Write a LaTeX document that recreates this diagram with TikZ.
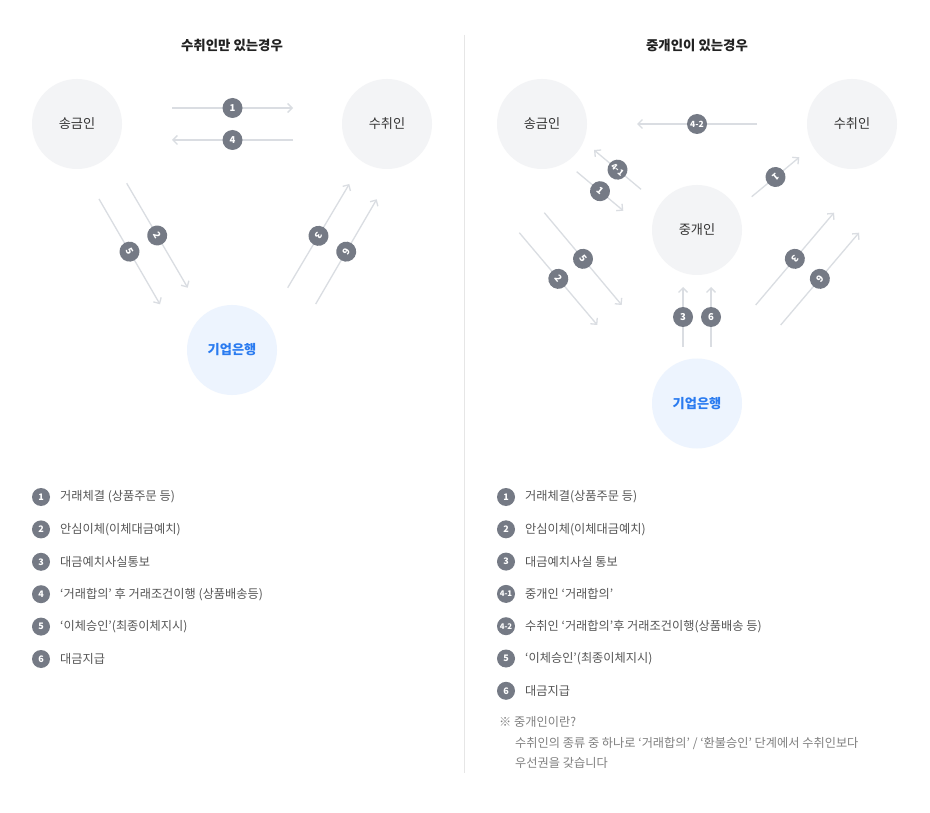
\documentclass[tikz,border=0pt]{standalone}
\usepackage{fontspec}
\setmainfont{Noto Sans CJK KR}
\usetikzlibrary{arrows.meta}
\definecolor{partyfill}{HTML}{F3F4F6}
\definecolor{bankfill}{HTML}{EDF4FE}
\definecolor{banktext}{HTML}{2A7BF0}
\definecolor{badgefill}{HTML}{757A85}
\definecolor{flowline}{HTML}{DADDE2}
\definecolor{titletext}{HTML}{222222}
\definecolor{labeltext}{HTML}{333333}
\definecolor{legendtext}{HTML}{555555}
\definecolor{notetext}{HTML}{808080}
\definecolor{divider}{HTML}{E6E6E6}
\tikzset{
  party/.style={circle, fill=partyfill, minimum size=90pt, inner sep=0pt, text=labeltext, font=\fontsize{13.2}{15}\selectfont},
  bank/.style={party, fill=bankfill, text=banktext, font=\fontsize{13.2}{15}\selectfont\bfseries},
  badge/.style={circle, fill=badgefill, minimum size=20pt, inner sep=0pt, text=white, font=\fontsize{9.5}{10}\selectfont\bfseries},
  lbadge/.style={circle, fill=badgefill, minimum size=18pt, inner sep=0pt, text=white, font=\fontsize{9}{10}\selectfont\bfseries},
  flow/.style={draw=flowline, line width=1.3pt, -{Straight Barb[length=4.5pt,width=9pt]}},
  paneltitle/.style={text=titletext, font=\fontsize{13.4}{15}\selectfont\bfseries},
  legendline/.style={anchor=west, inner sep=0pt, text=legendtext, font=\fontsize{12.2}{14}\selectfont},
  noteline/.style={anchor=west, inner sep=0pt, text=notetext, font=\fontsize{12.2}{14}\selectfont},
}
\begin{document}
\begin{tikzpicture}[x=1pt,y=-1pt]
\useasboundingbox[fill=white] (0,0) rectangle (930,813);

% divider
\coordinate (dtop) at (464,35);
\coordinate (dbot) at (464,773);
\draw[divider, line width=1pt] (dtop) -- (dbot);

% ===== Left panel =====
\node[paneltitle] (ltitle) at (232,45) {수취인만 있는경우};
\node[party] (lsend) at (77,124) {송금인};
\node[party] (lrecv) at (387,124) {수취인};
\node[bank] (lbank) at (232,350) {기업은행};

\coordinate (l1s) at (172,108); \coordinate (l1e) at (293,108);
\coordinate (l4s) at (293,140); \coordinate (l4e) at (172,140);
\coordinate (l2s) at (126.7,183.3); \coordinate (l2e) at (187.7,287.7);
\coordinate (l5s) at (99,199); \coordinate (l5e) at (160,304.3);
\coordinate (l3s) at (287.7,287.7); \coordinate (l3e) at (349.3,184);
\coordinate (l6s) at (315.7,304); \coordinate (l6e) at (376.7,199.3);

\draw[flow] (l1s) -- (l1e) node[badge, pos=.5] (lb1) {1};
\draw[flow] (l4s) -- (l4e) node[badge, pos=.5] (lb4) {4};
\draw[flow] (l2s) -- (l2e) node[badge, pos=.5, rotate=-60] (lb2) {2};
\draw[flow] (l5s) -- (l5e) node[badge, pos=.5, rotate=-60] (lb5) {5};
\draw[flow] (l3s) -- (l3e) node[badge, pos=.5, rotate=-120] (lb3) {3};
\draw[flow] (l6s) -- (l6e) node[badge, pos=.5, rotate=-120] (lb6) {6};

% ===== Right panel =====
\node[paneltitle] (rtitle) at (697,45) {중개인이 있는경우};
\node[party] (rsend) at (542,124) {송금인};
\node[party] (rrecv) at (852,124) {수취인};
\node[party] (rmid) at (697,230) {중개인};
\node[bank] (rbank) at (697,403.5) {기업은행};

\coordinate (r42s) at (757,124); \coordinate (r42e) at (637,124);
\coordinate (r41s) at (641,189.3); \coordinate (r41e) at (594,150);
\coordinate (r1as) at (576.7,171.7); \coordinate (r1ae) at (623.3,210.7);
\coordinate (r1bs) at (751.7,196.7); \coordinate (r1be) at (799.3,157.3);
\coordinate (r2s) at (519.3,232.7); \coordinate (r2e) at (597.3,325);
\coordinate (r5s) at (544.3,212.7); \coordinate (r5e) at (621.7,305);
\coordinate (r3s) at (755.7,305); \coordinate (r3e) at (834,212.7);
\coordinate (r6s) at (780.7,325); \coordinate (r6e) at (859,232.7);
\coordinate (r3vs) at (683,347); \coordinate (r3ve) at (683,287);
\coordinate (r6vs) at (711,347); \coordinate (r6ve) at (711,287);

\draw[flow] (r42s) -- (r42e) node[badge, pos=.5, font=\fontsize{8.5}{9}\selectfont\bfseries] (rb42) {4-2};
\draw[flow] (r41s) -- (r41e) node[badge, pos=.5, rotate=-40, font=\fontsize{8.5}{9}\selectfont\bfseries] (rb41) {4-1};
\draw[flow] (r1as) -- (r1ae) node[badge, pos=.5, rotate=-40] (rb1a) {1};
\draw[flow] (r1bs) -- (r1be) node[badge, pos=.5, rotate=-140] (rb1b) {1};
\draw[flow] (r2s) -- (r2e) node[badge, pos=.5, rotate=-50] (rb2) {2};
\draw[flow] (r5s) -- (r5e) node[badge, pos=.5, rotate=-50] (rb5) {5};
\draw[flow] (r3s) -- (r3e) node[badge, pos=.5, rotate=-130] (rb3) {3};
\draw[flow] (r6s) -- (r6e) node[badge, pos=.5, rotate=-130] (rb6) {6};
\draw[flow] (r3vs) -- (r3ve) node[badge, pos=.5] (rb3v) {3};
\draw[flow] (r6vs) -- (r6ve) node[badge, pos=.5] (rb6v) {6};

% ===== Left legend =====
\node[lbadge] (ll1) at (41,497) {1};
\node[legendline] (lt1) at (60,497) {거래체결 (상품주문 등)};
\node[lbadge] (ll2) at (41,529.4) {2};
\node[legendline] (lt2) at (60,529.4) {안심이체(이체대금예치)};
\node[lbadge] (ll3) at (41,561.8) {3};
\node[legendline] (lt3) at (60,561.8) {대금예치사실통보};
\node[lbadge] (ll4) at (41,594.2) {4};
\node[legendline] (lt4) at (60,594.2) {‘거래합의’ 후 거래조건이행 (상품배송등)};
\node[lbadge] (ll5) at (41,626.6) {5};
\node[legendline] (lt5) at (60,626.6) {‘이체승인’(최종이체지시)};
\node[lbadge] (ll6) at (41,659) {6};
\node[legendline] (lt6) at (60,659) {대금지급};

% ===== Right legend =====
\node[lbadge] (rl1) at (506,497) {1};
\node[legendline] (rt1) at (525,497) {거래체결(상품주문 등)};
\node[lbadge] (rl2) at (506,529.3) {2};
\node[legendline] (rt2) at (525,529.3) {안심이체(이체대금예치)};
\node[lbadge] (rl3) at (506,561.6) {3};
\node[legendline] (rt3) at (525,561.6) {대금예치사실 통보};
\node[lbadge, font=\fontsize{7.8}{8}\selectfont\bfseries] (rl41) at (506,593.9) {4-1};
\node[legendline] (rt41) at (525,593.9) {중개인 ‘거래합의’};
\node[lbadge, font=\fontsize{7.8}{8}\selectfont\bfseries] (rl42) at (506,626.2) {4-2};
\node[legendline] (rt42) at (525,626.2) {수취인 ‘거래합의’후 거래조건이행(상품배송 등)};
\node[lbadge] (rl5) at (506,658.5) {5};
\node[legendline] (rt5) at (525,658.5) {‘이체승인’(최종이체지시)};
\node[lbadge] (rl6) at (506,690.8) {6};
\node[legendline] (rt6) at (525,690.8) {대금지급};

\node[noteline] (n0) at (499,722) {※ 중개인이란?};
\node[noteline] (n1) at (515,743) {수취인의 종류 중 하나로 ‘거래합의’ / ‘환불승인’ 단계에서 수취인보다};
\node[noteline] (n2) at (515,763) {우선권을 갖습니다};
\end{tikzpicture}
\end{document}
